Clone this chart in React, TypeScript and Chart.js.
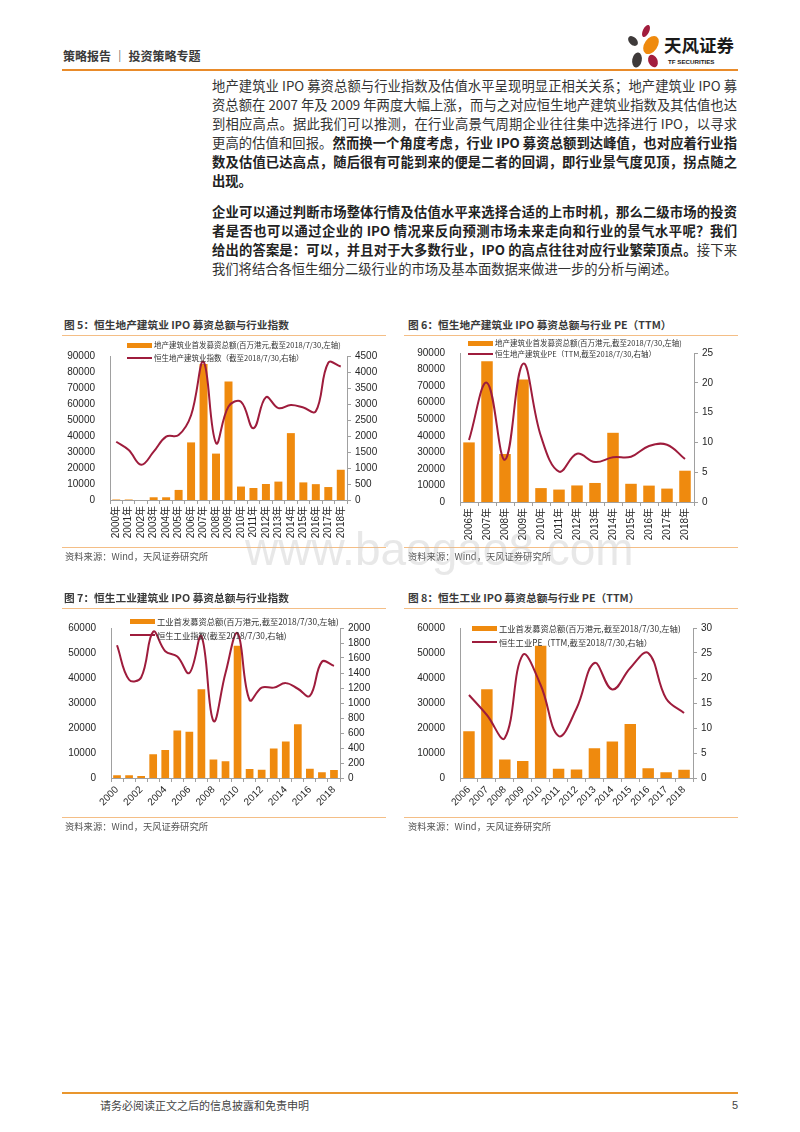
import React, { useEffect, useRef } from "react";
import { Chart, registerables } from "chart.js";
Chart.register(...registerables);

// ---------- DATA ----------
const years5 = ["2000年","2001年","2002年","2003年","2004年","2005年","2006年","2007年","2008年","2009年","2010年","2011年","2012年","2013年","2014年","2015年","2016年","2017年","2018年"];
const ipo5 = [300,300,0,1700,1700,6300,36000,85000,29000,74000,8400,7500,10000,11500,41800,11000,9900,8100,18900];
const index5 = [1820,1560,1100,1510,1980,2030,2650,4320,1780,2920,3070,2240,3210,2870,2970,2890,2770,4290,4170];

const years6 = ["2006年","2007年","2008年","2009年","2010年","2011年","2012年","2013年","2014年","2015年","2016年","2017年","2018年"];
const ipo6 = [36000,85000,29000,74000,8400,7500,10000,11500,41800,11000,9900,8100,18900];
const pe6 = [10.4,20,7.1,23.2,11,5.1,8.1,6.7,7.5,7.6,9.4,9.6,7.2];

const years7 = ["2000","2001","2002","2003","2004","2005","2006","2007","2008","2009","2010","2011","2012","2013","2014","2015","2016","2017","2018"];
const ipo7 = [1100,1100,800,9500,11200,19000,18500,35500,7400,6700,52900,3600,3300,11800,14600,21500,3700,2300,3200];
const index7 = [1770,1310,1340,1950,1690,1620,1400,1890,760,1400,1930,1040,1205,1205,1265,1190,1095,1550,1495];

const years8 = ["2006","2007","2008","2009","2010","2011","2012","2013","2014","2015","2016","2017","2018"];
const ipo8 = [18700,35500,7400,6800,52900,3700,3400,11900,14600,21600,3900,2300,3300];
const pe8 = [16.6,12.6,8.0,24.6,18.6,8.4,13.9,23.0,17.7,22.0,25.0,15.9,13.0];

const axis5 = [90000, 10000, 4500, 500];
const axis6 = [90000, 10000, 25, 5];
const axis7 = [60000, 10000, 2000, 200];
const axis8 = [60000, 10000, 30, 5];

// ---------- STYLE ----------
const ORANGE = "#EF8A0E";
const RED = "#9E1C3C";
const AXIS = "#A0A0A0";
const TXT = "#262626";
const CJK = '"Noto Sans CJK SC", "Noto Sans", sans-serif';
const CHARTFONT = '"Liberation Sans", Arial, "Noto Sans CJK SC", sans-serif';

type ComboProps = {
  labels: string[]; bars: number[]; line: number[]; axis: number[];
  x: number; y: number; w: number; h: number;
  lW: number; rW: number; top: number; xH: number; rot: number; skip?: boolean;
};

function Combo(p: ComboProps) {
  const ref = useRef<HTMLCanvasElement>(null);
  useEffect(() => {
    const font = { family: CHARTFONT, size: 10 };
    const plain = (v: any) => String(v);
    const chart = new Chart(ref.current!, {
      type: "bar",
      data: {
        labels: p.labels,
        datasets: [
          { type: "line", data: p.line, yAxisID: "y1", borderColor: RED, borderWidth: 2, pointRadius: 0, tension: 0.4, order: 1, clip: false } as any,
          { type: "bar", data: p.bars, yAxisID: "y", backgroundColor: ORANGE, barPercentage: 0.64, categoryPercentage: 1, order: 2 } as any,
        ],
      },
      options: {
        responsive: false,
        animation: false,
        layout: { padding: { top: p.top, left: 0, right: 0, bottom: 0 } },
        plugins: { legend: { display: false }, tooltip: { enabled: false } },
        scales: {
          x: {
            grid: { display: true, drawOnChartArea: false, drawTicks: true, tickLength: 4, color: AXIS, offset: true },
            border: { display: true, color: AXIS },
            ticks: {
              color: TXT, font, minRotation: p.rot, maxRotation: p.rot, autoSkip: false, padding: 2,
              callback: (_v: any, i: number) => (p.skip && i % 2 ? "" : p.labels[i]),
            },
            afterFit: (s: any) => { s.height = p.xH; },
          },
          y: {
            position: "left", min: 0, max: p.axis[0],
            grid: { display: false },
            border: { display: true, color: AXIS },
            ticks: { stepSize: p.axis[1], color: TXT, font, padding: 7, callback: plain },
            afterFit: (s: any) => { s.width = p.lW; },
          },
          y1: {
            position: "right", min: 0, max: p.axis[2],
            grid: { display: true, drawOnChartArea: false, drawTicks: true, tickLength: 4, color: AXIS },
            border: { display: true, color: AXIS },
            ticks: { stepSize: p.axis[3], color: TXT, font, padding: 4, callback: plain },
            afterFit: (s: any) => { s.width = p.rW; },
          },
        },
      } as any,
    });
    return () => chart.destroy();
  }, []);
  return (
    <canvas ref={ref} width={p.w} height={p.h}
      style={{ position: "absolute", left: p.x, top: p.y, width: p.w, height: p.h }} />
  );
}

const Txt = (props: { x: number; y: number; size: number; weight?: number; color?: string; family?: string; children: any; style?: any }) => (
  <div style={{
    position: "absolute", left: props.x, top: props.y - props.size * 0.75, fontSize: props.size,
    lineHeight: `${props.size * 1.5}px`, fontWeight: props.weight ?? 400, color: props.color ?? "#333",
    fontFamily: props.family ?? CJK, whiteSpace: "nowrap", ...(props.style || {}),
  }}>{props.children}</div>
);

const HLine = (p: { x1: number; x2: number; y: number; color: string; t?: number }) => (
  <div style={{ position: "absolute", left: p.x1, top: p.y, width: p.x2 - p.x1, height: p.t ?? 1, background: p.color }} />
);

const Legend = (p: { x: number; y1: number; y2: number; t1: string; t2: string; size: number }) => (
  <>
    <div style={{ position: "absolute", left: p.x, top: p.y1 - 2.5, width: 25, height: 5, background: ORANGE }} />
    <Txt x={p.x + 27} y={p.y1} size={p.size} color="#333">{p.t1}</Txt>
    <div style={{ position: "absolute", left: p.x, top: p.y2 - 1, width: 25, height: 2, background: RED }} />
    <Txt x={p.x + 27} y={p.y2} size={p.size} color="#333">{p.t2}</Txt>
  </>
);

type Seg = { t: string; b?: boolean };
const body1: Seg[][] = [
  [{ t: "地产建筑业 IPO 募资总额与行业指数及估值水平呈现明显正相关关系；地产建筑业 IPO 募" }],
  [{ t: "资总额在 2007 年及 2009 年两度大幅上涨，而与之对应恒生地产建筑业指数及其估值也达" }],
  [{ t: "到相应高点。据此我们可以推测，在行业高景气周期企业往往集中选择进行 IPO，以寻求" }],
  [{ t: "更高的估值和回报。" }, { t: "然而换一个角度考虑，行业 IPO 募资总额到达峰值，也对应着行业指", b: true }],
  [{ t: "数及估值已达高点，随后很有可能到来的便是二者的回调，即行业景气度见顶，拐点随之", b: true }],
  [{ t: "出现。", b: true }],
];
const body2: Seg[][] = [
  [{ t: "企业可以通过判断市场整体行情及估值水平来选择合适的上市时机，那么二级市场的投资", b: true }],
  [{ t: "者是否也可以通过企业的 IPO 情况来反向预测市场未来走向和行业的景气水平呢？我们", b: true }],
  [{ t: "给出的答案是：可以，并且对于大多数行业，IPO 的高点往往对应行业繁荣顶点。", b: true }, { t: "接下来" }],
  [{ t: "我们将结合各恒生细分二级行业的市场及基本面数据来做进一步的分析与阐述。" }],
];

const BodyLine = (p: { segs: Seg[]; y: number; last: boolean }) => (
  <div style={{
    position: "absolute", left: 212, top: p.y - 10, width: 525, height: 20, lineHeight: "20px",
    fontSize: 13.3, fontFamily: CJK, color: "#333", whiteSpace: "nowrap",
    textAlign: p.last ? "left" : "justify", textAlignLast: p.last ? "left" : "justify",
  } as any}>
    {p.segs.map((s, i) => (
      <span key={i} style={{ fontWeight: s.b ? 700 : 400, color: s.b ? "#222" : "#333" }}>{s.t}</span>
    ))}
  </div>
);

function Logo() {
  return (
    <svg style={{ position: "absolute", left: 620, top: 20 }} width={50} height={55} viewBox="620 20 50 55">
      <ellipse cx={646} cy={31} rx={3.2} ry={6.5} fill="#A21D3D" transform="rotate(25 646 31)" />
      <ellipse cx={633} cy={41} rx={3.8} ry={5.8} fill="#3E3A3A" transform="rotate(-45 633 41)" />
      <ellipse cx={651} cy={45} rx={6.5} ry={10} fill="#EF8A0E" transform="rotate(35 651 45)" />
      <ellipse cx={637} cy={60} rx={4.8} ry={7.5} fill="#3E3A3A" transform="rotate(10 637 60)" />
      <ellipse cx={653} cy={61} rx={4.5} ry={6.5} fill="#A21D3D" transform="rotate(-25 653 61)" />
    </svg>
  );
}

export default function App() {
  const L = 19;
  return (
    <div style={{ position: "absolute", left: 0, top: 0, width: 800, height: 1132, background: "#fff", overflow: "hidden" }}>
      {/* header */}
      <Txt x={63} y={56} size={12} weight={700} color="#3a3a3a">策略报告 ｜ 投资策略专题</Txt>
      <Logo />
      <Txt x={664} y={45} size={17.5} weight={700} color="#1a1a1a">天风证券</Txt>
      <Txt x={668} y={62} size={6.2} weight={700} color="#1a1a1a" family={CHARTFONT}>TF SECURITIES</Txt>
      <HLine x1={62} x2={738} y={69} color="#E98B2A" t={2} />

      {/* body */}
      {body1.map((s, i) => <BodyLine key={"a" + i} segs={s} y={86 + i * L} last={i === body1.length - 1} />)}
      {body2.map((s, i) => <BodyLine key={"b" + i} segs={s} y={212 + i * L} last={i === body2.length - 1} />)}

      {/* chart 5 */}
      <Txt x={64} y={325} size={10.7} weight={700} color="#3a3a3a">图 5：恒生地产建筑业 IPO 募资总额与行业指数</Txt>
      <HLine x1={62} x2={386} y={335} color="#F4BE86" />
      <Combo labels={years5} bars={ipo5} line={index5} axis={axis5}
        x={60} y={340} w={340} h={215} lW={50} rW={53} top={16} xH={55} rot={90} />
      <Legend x={127} y1={345} y2={358} size={7.5}
        t1="地产建筑业首发募资总额(百万港元,截至2018/7/30,左轴)" t2="恒生地产建筑业指数（截至2018/7/30,右轴）" />
      <HLine x1={62} x2={386} y={547} color="#F4BE86" />
      <Txt x={65} y={557} size={9.3} color="#555">资料来源：Wind，天风证券研究所</Txt>

      {/* chart 6 */}
      <Txt x={408} y={325} size={10.7} weight={700} color="#3a3a3a">图 6：恒生地产建筑业 IPO 募资总额与行业 PE（TTM）</Txt>
      <HLine x1={404} x2={738} y={335} color="#F4BE86" />
      <Combo labels={years6} bars={ipo6} line={pe6} axis={axis6}
        x={400} y={340} w={340} h={215} lW={60} rW={46} top={13} xH={53} rot={90} />
      <Legend x={468} y1={343} y2={354} size={7.5}
        t1="地产建筑业首发募资总额(百万港元,截至2018/7/30,左轴)" t2="恒生地产建筑业PE（TTM,截至2018/7/30,右轴）" />
      <HLine x1={404} x2={738} y={547} color="#F4BE86" />
      <Txt x={408} y={557} size={9.3} color="#555">资料来源：Wind，天风证券研究所</Txt>

      {/* chart 7 */}
      <Txt x={64} y={598} size={10.7} weight={700} color="#3a3a3a">图 7：恒生工业建筑业 IPO 募资总额与行业指数</Txt>
      <HLine x1={62} x2={386} y={608} color="#F4BE86" />
      <Combo labels={years7} bars={ipo7} line={index7} axis={axis7}
        x={60} y={610} w={340} h={210} lW={51} rW={60} top={18} xH={42} rot={45} skip />
      <Legend x={130} y1={621} y2={635} size={8.3}
        t1="工业首发募资总额(百万港元,截至2018/7/30,左轴)" t2="恒生工业指数(截至2018/7/30,右轴)" />
      <HLine x1={62} x2={386} y={817} color="#F4BE86" />
      <Txt x={65} y={827} size={9.3} color="#555">资料来源：Wind，天风证券研究所</Txt>

      {/* chart 8 */}
      <Txt x={408} y={598} size={10.7} weight={700} color="#3a3a3a">图 8：恒生工业 IPO 募资总额与行业 PE（TTM）</Txt>
      <HLine x1={404} x2={738} y={608} color="#F4BE86" />
      <Combo labels={years8} bars={ipo8} line={pe8} axis={axis8}
        x={400} y={610} w={340} h={210} lW={60} rW={47} top={18} xH={42} rot={45} />
      <Legend x={472} y1={628} y2={642} size={8.3}
        t1="工业首发募资总额(百万港元,截至2018/7/30,左轴)" t2="恒生工业PE（TTM,截至2018/7/30,右轴）" />
      <HLine x1={404} x2={738} y={817} color="#F4BE86" />
      <Txt x={408} y={827} size={9.3} color="#555">资料来源：Wind，天风证券研究所</Txt>

      {/* watermark */}
      <div style={{ position: "absolute", left: 245, top: 526, fontSize: 46, lineHeight: "46px", fontFamily: CHARTFONT, color: "rgba(190,190,190,0.35)", whiteSpace: "nowrap", pointerEvents: "none" }}>www.baogao8.com</div>

      {/* footer */}
      <HLine x1={62} x2={738} y={1092} color="#E9962E" t={2} />
      <Txt x={100} y={1105} size={11} color="#444">请务必阅读正文之后的信息披露和免责申明</Txt>
      <Txt x={732} y={1105} size={11} color="#444" family={CHARTFONT}>5</Txt>
    </div>
  );
}
